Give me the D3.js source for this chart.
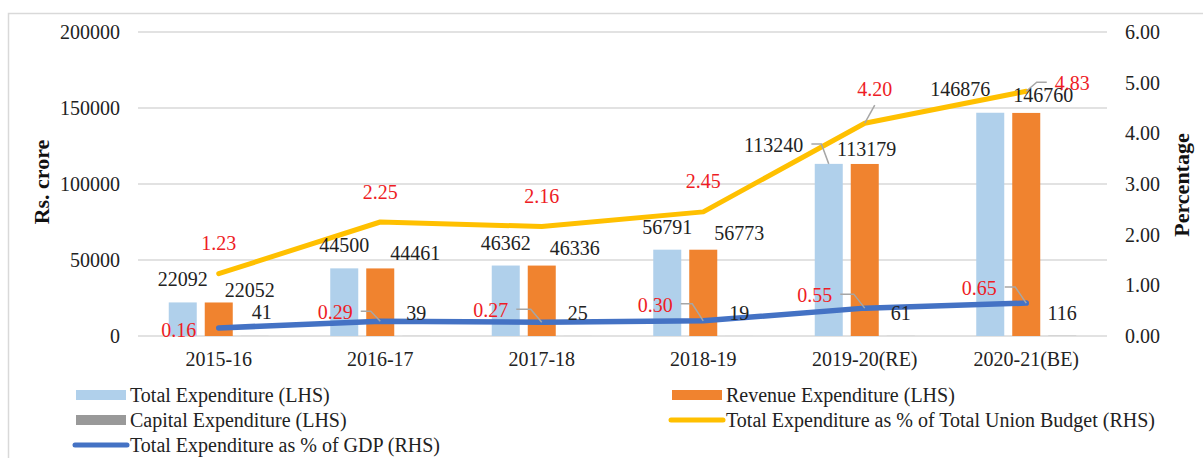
<!DOCTYPE html>
<html>
<head>
<meta charset="utf-8">
<script src="https://cdn.jsdelivr.net/npm/d3@7"></script>
<style>
  body { margin: 0; background: #fff; }
  text { font-family: "Liberation Serif", "Times New Roman", serif; }
</style>
</head>
<body>
<svg id="chart"></svg>
<script>
// values
const years = ["2015-16", "2016-17", "2017-18", "2018-19", "2019-20(RE)", "2020-21(BE)"];
const totalExp = [22092, 44500, 46362, 56791, 113240, 146876];
const revenueExp = [22052, 44461, 46336, 56773, 113179, 146760];
const capitalExp = [41, 39, 25, 19, 61, 116];
const pctBudget = [1.23, 2.25, 2.16, 2.45, 4.20, 4.83];
const pctGdp = [0.16, 0.29, 0.27, 0.30, 0.55, 0.65];
const leftTicks = [0, 50000, 100000, 150000, 200000];
const rightTicks = [0, 1, 2, 3, 4, 5, 6];

// hand placed data labels (offset from their point), as in the source
const totalNudge = [[0, -23], [0, -23], [0, -23], [0, -23], [-55, -19], [-30, -24]];
const revenueNudge = [[31, -12], [35, -15], [33, -18], [36, -17], [2, -15], [17, -18]];
const capitalNudge = [[7, -24], [0, -23], [0, -23], [0, -23], [0, -23], [0, -23]];
const budgetNudge = [[0, -31], [0, -30], [0, -31], [0, -31], [10, -34], [46, -8]];
const gdpNudge = [[-40, 2], [-45, -9], [-51, -12], [-48, -16], [-50, -13], [-47, -15]];
const totalLeader = [false, false, false, false, true, false];
const budgetLeader = [false, false, false, false, true, true];
const gdpLeader = [false, true, true, true, true, true];

const W = 1203, H = 458;
const plotL = 138, plotR = 1107, plotT = 32, plotB = 336;

const svg = d3.select("#chart").attr("width", W).attr("height", H);
svg.append("rect").attr("width", W).attr("height", H).attr("fill", "#fff");

// outer chart frame (runs off the right and bottom of the picture)
svg.append("rect")
    .attr("x", 8.5).attr("y", 13.5)
    .attr("width", 1300).attr("height", 600)
    .attr("fill", "none")
    .attr("stroke", "#d9d9d9")
    .attr("stroke-width", 1.5);

const x = d3.scaleBand().domain(years).range([plotL, plotR]);
const series = ["total", "revenue", "capital"];
const x1 = d3.scaleBand().domain(series).range([-50, 50]).paddingInner(0.222);
const yL = d3.scaleLinear().domain([0, 200000]).range([plotB, plotT]);
const yR = d3.scaleLinear().domain([0, 6]).range([plotB, plotT]);

const cx = d => x(d) + x.bandwidth() / 2;

// gridlines
svg.append("g").selectAll("line")
    .data(leftTicks)
    .enter().append("line")
    .attr("x1", plotL).attr("x2", plotR)
    .attr("y1", d => yL(d)).attr("y2", d => yL(d))
    .attr("stroke", "#d9d9d9")
    .attr("stroke-width", 1.5);

// axes
const axisL = svg.append("g")
    .attr("transform", `translate(${plotL},0)`)
    .call(d3.axisLeft(yL).tickValues(leftTicks).tickSize(0).tickPadding(18).tickFormat(d3.format("d")));
const axisR = svg.append("g")
    .attr("transform", `translate(${plotR},0)`)
    .call(d3.axisRight(yR).tickValues(rightTicks).tickSize(0).tickPadding(18).tickFormat(d3.format(".2f")));
const axisB = svg.append("g")
    .attr("transform", `translate(0,${plotB})`)
    .call(d3.axisBottom(x).tickSize(0).tickPadding(16));
[axisL, axisR, axisB].forEach(g => {
    g.select(".domain").remove();
    g.selectAll("text")
        .style("font-family", '"Liberation Serif", "Times New Roman", serif')
        .style("font-size", "20px")
        .attr("fill", "#222");
});

svg.append("text")
    .attr("transform", "translate(41,182) rotate(-90)")
    .attr("text-anchor", "middle").attr("dy", "0.35em")
    .style("font-size", "22px").style("font-weight", "bold")
    .attr("fill", "#111")
    .text("Rs. crore");
svg.append("text")
    .attr("transform", "translate(1181,185) rotate(-90)")
    .attr("text-anchor", "middle").attr("dy", "0.35em")
    .style("font-size", "22px").style("font-weight", "bold")
    .attr("fill", "#111")
    .text("Percentage");

// bars
const colors = { total: "#b0d0eb", revenue: "#f0832f", capital: "#999999" };
const barData = { total: totalExp, revenue: revenueExp, capital: capitalExp };
const barG = svg.append("g");
series.forEach(s => {
    barG.selectAll("rect." + s)
        .data(years)
        .enter().append("rect")
        .attr("class", s)
        .attr("x", d => cx(d) + x1(s))
        .attr("width", x1.bandwidth())
        .attr("y", (d, i) => yL(barData[s][i]))
        .attr("height", (d, i) => plotB - yL(barData[s][i]))
        .attr("fill", colors[s]);
});

// lines
const line = d3.line().x((d, i) => cx(years[i])).y(d => yR(d));
svg.append("path")
    .datum(pctBudget)
    .attr("d", line)
    .attr("fill", "none")
    .attr("stroke", "#ffc000")
    .attr("stroke-width", 5)
    .attr("stroke-linejoin", "round")
    .attr("stroke-linecap", "round");
svg.append("path")
    .datum(pctGdp)
    .attr("d", line)
    .attr("fill", "none")
    .attr("stroke", "#4472c4")
    .attr("stroke-width", 5.5)
    .attr("stroke-linejoin", "round")
    .attr("stroke-linecap", "round");

// data labels
const labelG = svg.append("g");
const leaderG = svg.append("g");

function addLabels(values, anchorX, anchorY, nudge, leaders, fmt, color) {
    values.forEach((v, i) => {
        const ax = anchorX(i), ay = anchorY(i);
        const t = labelG.append("text")
            .attr("x", ax + nudge[i][0])
            .attr("y", ay + nudge[i][1])
            .attr("dy", "0.35em")
            .attr("text-anchor", "middle")
            .style("font-size", "20px")
            .attr("fill", color)
            .text(fmt(v));
        if (!leaders || !leaders[i]) return;
        const b = t.node().getBBox();
        const cy = ay + nudge[i][1] - 1;
        let path;
        if (b.x + b.width < ax - 5) {
            const sx = b.x + b.width + 8;
            const kx = Math.max(sx + 10, ax - 11);
            path = `M${sx},${cy}H${kx}L${ax},${ay}`;
        } else if (b.x > ax + 5) {
            const sx = b.x - 8;
            const kx = Math.min(sx - 10, ax + 11);
            path = `M${sx},${cy}H${kx}L${ax},${ay}`;
        } else {
            path = `M${ax + nudge[i][0]},${b.y + b.height + 5}L${ax},${ay}`;
        }
        leaderG.append("path")
            .attr("d", path)
            .attr("fill", "none")
            .attr("stroke", "#a6a6a6")
            .attr("stroke-width", 1.5);
    });
}

const barX = s => i => cx(years[i]) + x1(s) + x1.bandwidth() / 2;
addLabels(totalExp, barX("total"), i => yL(totalExp[i]), totalNudge, totalLeader, d3.format("d"), "#222");
addLabels(revenueExp, barX("revenue"), i => yL(revenueExp[i]), revenueNudge, null, d3.format("d"), "#222");
addLabels(capitalExp, barX("capital"), i => yL(capitalExp[i]), capitalNudge, null, d3.format("d"), "#222");
addLabels(pctBudget, i => cx(years[i]), i => yR(pctBudget[i]), budgetNudge, budgetLeader, d3.format(".2f"), "#ee1c25");
addLabels(pctGdp, i => cx(years[i]), i => yR(pctGdp[i]), gdpNudge, gdpLeader, d3.format(".2f"), "#ee1c25");

// legend
const legendItems = [
    { name: "Total Expenditure (LHS)", color: colors.total, type: "rect", x: 76, y: 395 },
    { name: "Revenue Expenditure (LHS)", color: colors.revenue, type: "rect", x: 672, y: 395 },
    { name: "Capital Expenditure (LHS)", color: colors.capital, type: "rect", x: 76, y: 420 },
    { name: "Total Expenditure as % of Total Union Budget (RHS)", color: "#ffc000", type: "line", x: 672, y: 420 },
    { name: "Total Expenditure as % of GDP (RHS)", color: "#4472c4", type: "line", x: 76, y: 445 }
];
const lg = svg.append("g").selectAll("g")
    .data(legendItems)
    .enter().append("g")
    .attr("transform", d => `translate(${d.x},${d.y})`);
lg.filter(d => d.type === "rect").append("rect")
    .attr("x", 0).attr("y", -5)
    .attr("width", 50).attr("height", 10)
    .attr("fill", d => d.color);
lg.filter(d => d.type === "line").append("line")
    .attr("x1", -1).attr("x2", 51)
    .attr("y1", 0).attr("y2", 0)
    .attr("stroke", d => d.color)
    .attr("stroke-width", 5)
    .attr("stroke-linecap", "round");
lg.append("text")
    .attr("x", 54).attr("dy", "0.35em")
    .style("font-size", "20px")
    .attr("fill", "#222")
    .text(d => d.name);
</script>
</body>
</html>
